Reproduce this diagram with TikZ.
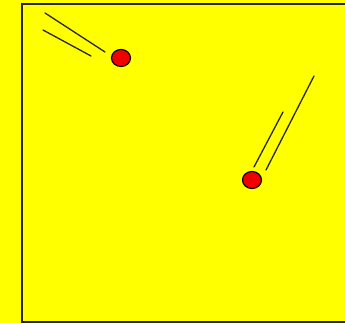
\documentclass[tikz,border=0pt]{standalone}
\definecolor{bgyellow}{RGB}{255,255,0}
\definecolor{ballred}{RGB}{240,0,0}
\tikzset{
  ball/.style={ellipse, draw=black, line width=1.2pt, fill=ballred, minimum width=19pt, minimum height=17pt, inner sep=0pt},
  trail/.style={draw=black!85, line width=1.3pt, line cap=round},
  frame/.style={draw=black!85, line width=2pt}
}
\usetikzlibrary{shapes.geometric}
\begin{document}
\begin{tikzpicture}[x=1pt,y=-1pt]
\useasboundingbox[fill=bgyellow] (0,0) rectangle (345,323);
\draw[frame] (360,4) -- (22,4) -- (22,322) -- (360,322);
\node[ball] (b1) at (121,58) {};
\node[ball] (b2) at (252,180) {};
\draw[trail] (45,13) -- (105,52);
\draw[trail] (43,30) -- (91,56);
\draw[trail] (283,112) -- (254,167);
\draw[trail] (314,76) -- (266,170);
\end{tikzpicture}
\end{document}
